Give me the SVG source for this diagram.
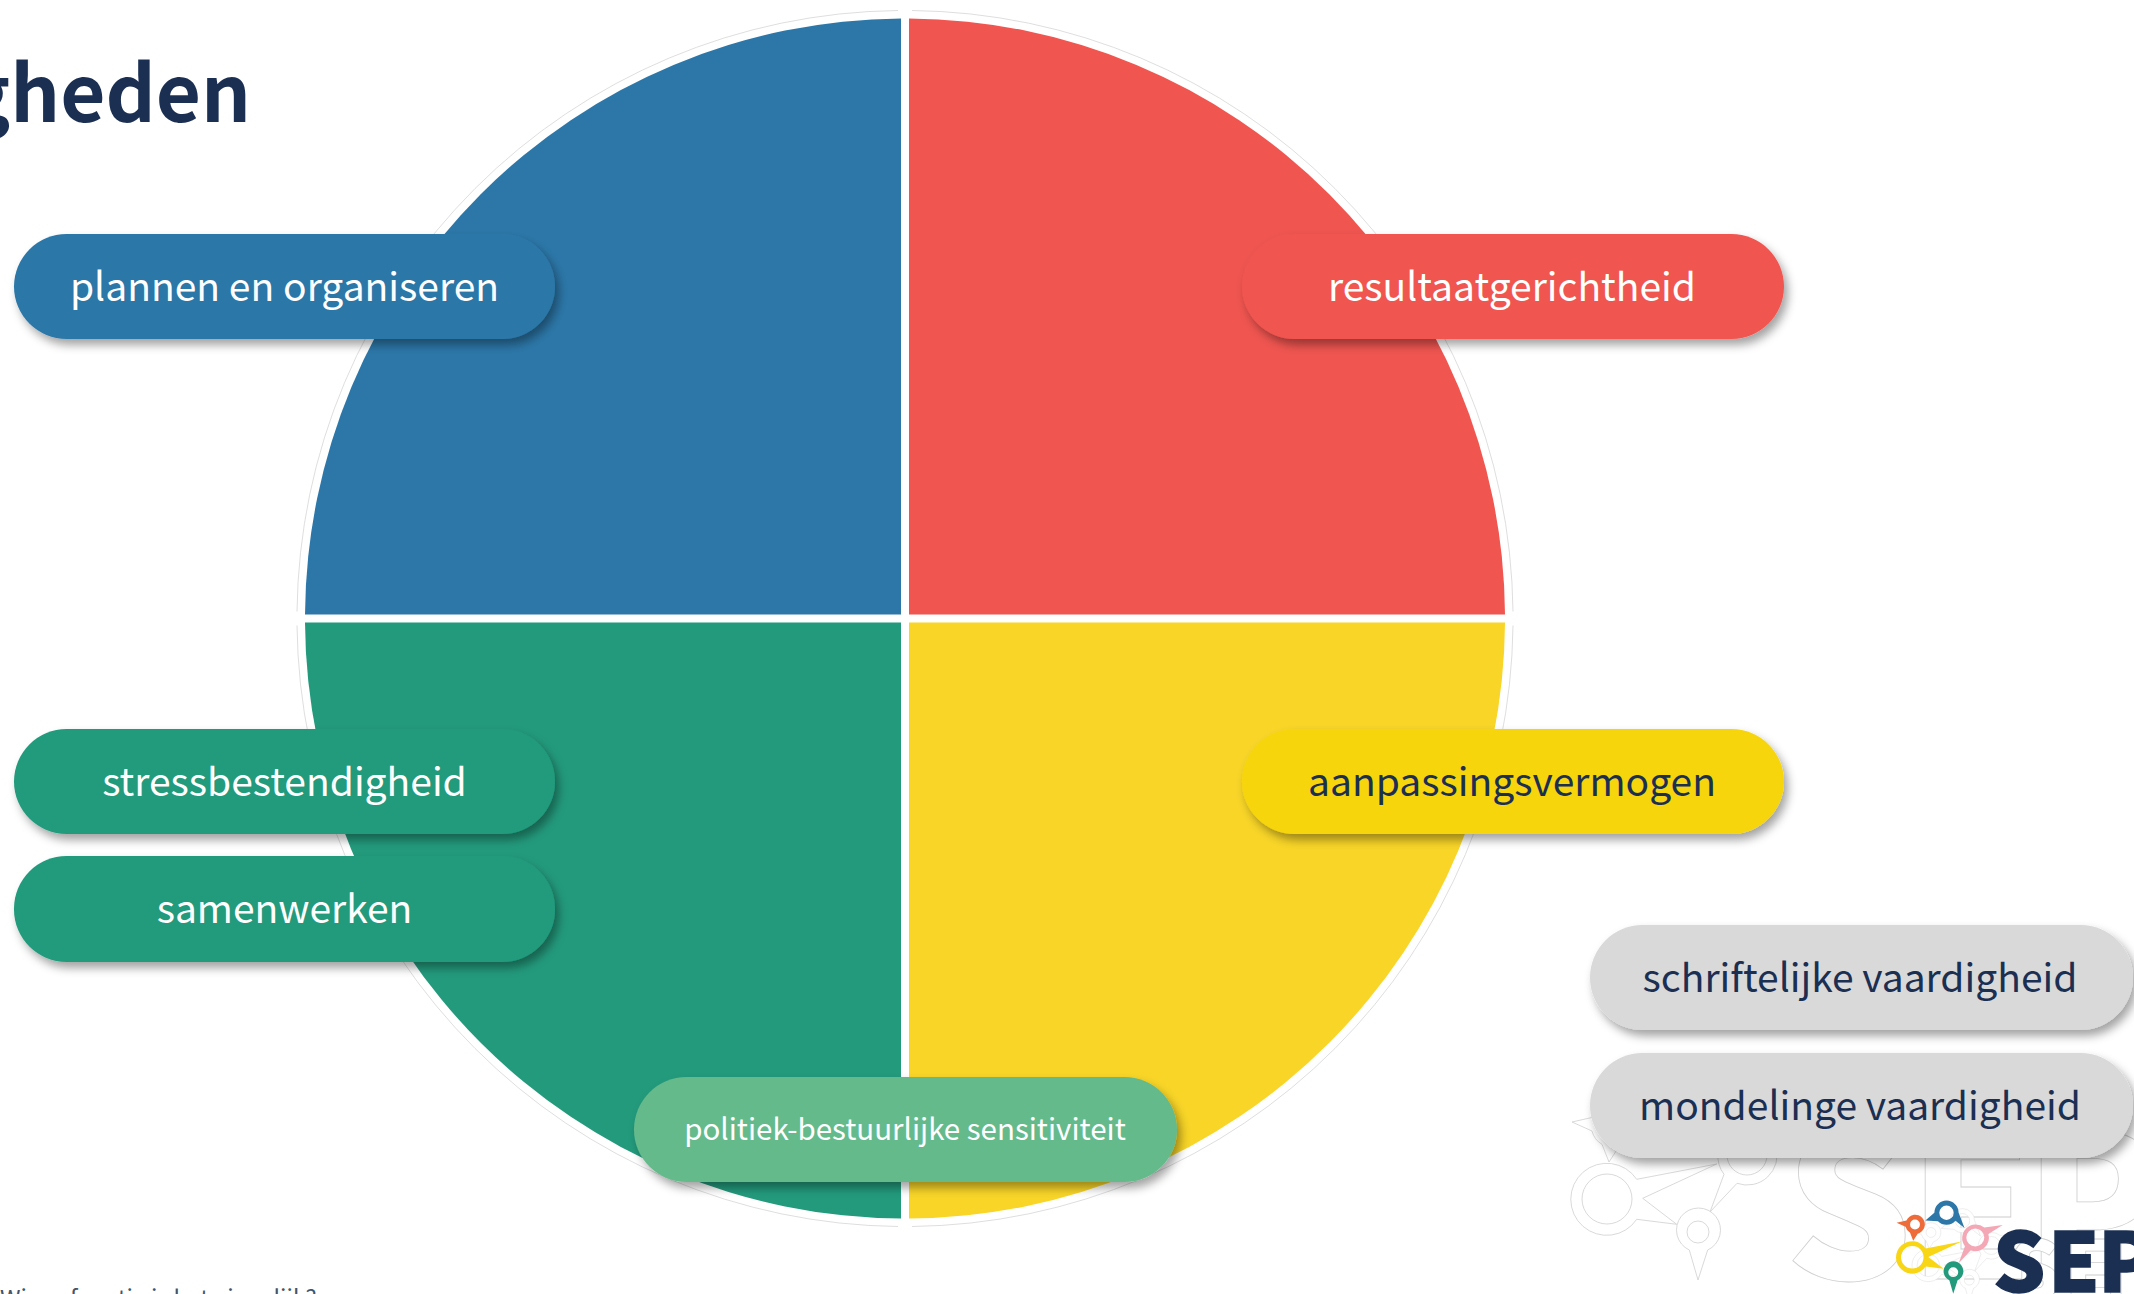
<svg xmlns="http://www.w3.org/2000/svg" width="2134" height="1294" viewBox="0 0 2134 1294">
<style>
text{font-family:"Noto Sans CJK SC","Noto Sans",sans-serif}
.lbl{font-size:39px;text-anchor:middle}
.w{fill:#fff}.n{fill:#1b2f52}
.pill{filter:url(#sh)}
.ring{fill:none;stroke:#bdbdbd;stroke-width:.5}
.ghost{fill:#fff;fill-rule:evenodd;stroke:#cfcfcf;stroke-width:.8;vector-effect:non-scaling-stroke}
.pin{fill-rule:evenodd}
.sep{font-weight:900}
</style>
<defs>
<filter id="sh" x="-10%" y="-30%" width="120%" height="170%"><feDropShadow dx="4" dy="6" stdDeviation="5" flood-color="#000" flood-opacity=".36"/></filter>
<path id="p-y" d="M1636.7 1179.3L1716.7 1164L1642.7 1198.3L1676.7 1224.3L1636.7 1219.3A36 36 0 1 1 1636.7 1179.3ZM1582 1199a25 25 0 1 0 50 0a25 25 0 1 0 -50 0Z"/>
<path id="p-g" d="M1689.3 1250L1698 1280L1707.7 1250A22 22 0 1 0 1689.3 1250ZM1687 1232a11 11 0 1 0 22 0a11 11 0 1 0 -22 0Z"/>
<path id="p-p" d="M1767 1133L1808 1127L1776 1147A30 30 0 0 1 1737 1183.3L1710 1212L1724 1174.3A30 30 0 0 1 1767 1133ZM1727 1155a20 20 0 1 0 40 0a20 20 0 1 0 -40 0Z"/>
<path id="p-o" d="M1594 1117L1572 1122L1592 1131A21.4 21.4 0 0 0 1602 1144.3L1609 1162L1619 1146.5A21.4 21.4 0 1 0 1594 1117ZM1602 1126a11 11 0 1 0 22 0a11 11 0 1 0 -22 0Z"/>
<path id="p-b" d="M1656 1100L1636 1117L1664 1119A27 27 0 0 0 1703 1118L1723 1134L1710 1100A27 27 0 1 0 1656 1100ZM1667 1100a16 16 0 1 0 32 0a16 16 0 1 0 -32 0Z"/>
<g id="pins">
<use href="#p-o" fill="#ee6c3a"/><use href="#p-b" fill="#2c77a8"/><use href="#p-p" fill="#f4a7b4"/><use href="#p-y" fill="#f9d615"/><use href="#p-g" fill="#239a7c"/>
</g>
</defs>
<rect width="2134" height="1294" fill="#fff"/>
<g id="title"><text x="251" y="122" text-anchor="end" font-size="78" font-weight="700" class="n">gheden</text></g>
<g id="footer"><text x="0" y="1307" font-size="23.3" fill="#44546a">Wiens functie is het eigenlijk?</text></g>
<g id="circle">
<path fill="#2c77a8" d="M901 18.5A600 600 0 0 0 305 614.5L901 614.5Z"/>
<path fill="#f05550" d="M909 18.5A600 600 0 0 1 1505 614.5L909 614.5Z"/>
<path fill="#239a7c" d="M901 1218.5A600 600 0 0 1 305 622.5L901 622.5Z"/>
<path fill="#f8d527" d="M909 1218.5A600 600 0 0 0 1505 622.5L909 622.5Z"/>
<path class="ring" d="M912 10.5A608 608 0 0 1 1513 611.5M1513 625.5A608 608 0 0 1 912 1226.5M898 1226.5A608 608 0 0 1 297 625.5M297 611.5A608 608 0 0 1 898 10.5"/>
</g>
<g id="logo-ghost">
<use href="#p-o" class="ghost"/><use href="#p-b" class="ghost"/><use href="#p-p" class="ghost"/><use href="#p-y" class="ghost"/><use href="#p-g" class="ghost"/>
<text class="sep ghost" x="1785 1908 2024" y="1279" font-size="200">SEP</text>
</g>
<g id="logo-ghost-small" transform="translate(16 8)">
<g transform="translate(1912.3 1257.3) scale(.45) translate(-1607 -1199)">
<use href="#p-o" class="ghost"/><use href="#p-b" class="ghost"/><use href="#p-p" class="ghost"/><use href="#p-y" class="ghost"/><use href="#p-g" class="ghost"/>
</g>
<text class="sep ghost" x="1993 2048 2098" y="1292" font-size="82">SEP</text>
</g>
<g id="pill-plannen"><rect class="pill" x="14" y="234" width="541" height="105" rx="52.5" fill="#2c77a8"/><text class="lbl w" x="284.5" y="301">plannen en organiseren</text></g>
<g id="pill-resultaat"><rect class="pill" x="1242" y="234" width="542" height="105" rx="52.5" fill="#f05550"/><text class="lbl w" x="1512" y="301">resultaatgerichtheid</text></g>
<g id="pill-stress"><rect class="pill" x="14" y="729" width="541" height="105" rx="52.5" fill="#239a7c"/><text class="lbl w" x="284.5" y="796">stressbestendigheid</text></g>
<g id="pill-samenwerken"><rect class="pill" x="14" y="856" width="541" height="106" rx="52.5" fill="#239a7c"/><text class="lbl w" x="284.5" y="923">samenwerken</text></g>
<g id="pill-aanpassing"><rect class="pill" x="1242" y="729" width="542" height="105" rx="52.5" fill="#f6d50e"/><text class="lbl n" x="1512" y="796">aanpassingsvermogen</text></g>
<g id="pill-politiek"><rect class="pill" x="634" y="1077" width="543" height="105" rx="52.5" fill="#65ba8c"/><text class="lbl w" x="905" y="1140" style="font-size:29.5px">politiek-bestuurlijke sensitiviteit</text></g>
<g id="pill-schriftelijk"><rect class="pill" x="1590" y="925" width="543" height="105" rx="52.5" fill="#d9d9d9"/><text class="lbl n" x="1860" y="992">schriftelijke vaardigheid</text></g>
<g id="pill-mondeling"><rect class="pill" x="1590" y="1053" width="543" height="105" rx="52.5" fill="#d9d9d9"/><text class="lbl n" x="1860" y="1120">mondelinge vaardigheid</text></g>
<g id="logo">
<use href="#pins" class="pin" transform="translate(1912.3 1257.3) scale(.45) translate(-1607 -1199)"/>
<text class="sep n" x="1993 2048 2098" y="1292" font-size="82" stroke="#1b2f52" stroke-width="1.5">SEP</text>
</g>
</svg>
